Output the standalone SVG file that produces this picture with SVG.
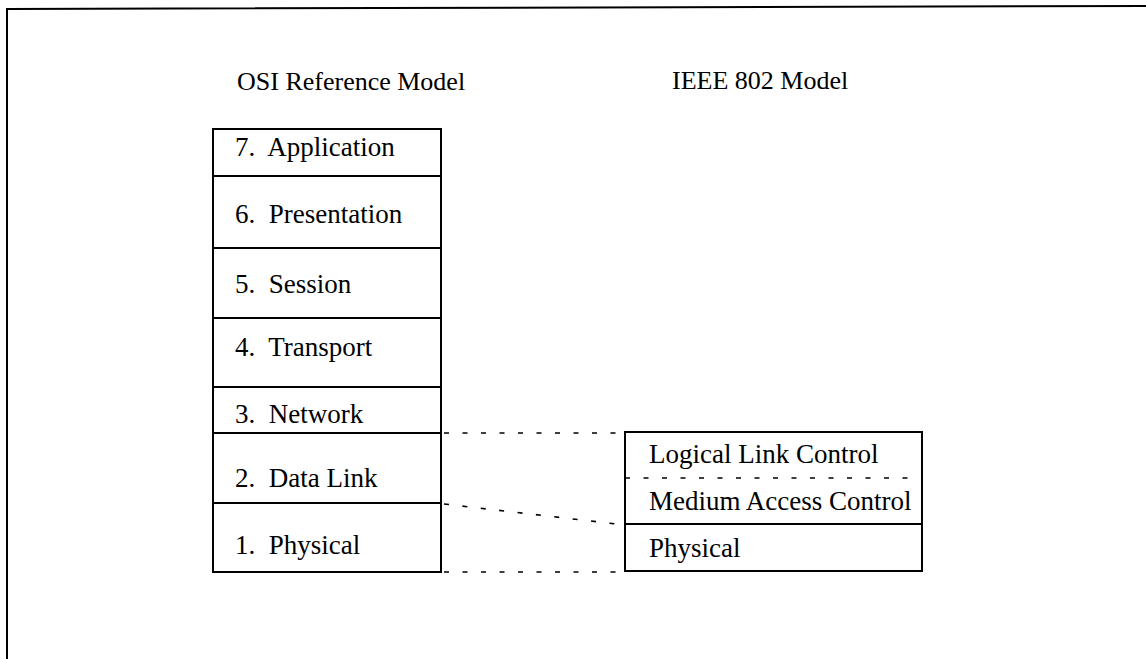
<svg xmlns="http://www.w3.org/2000/svg" width="1146" height="659" viewBox="0 0 1146 659">
<style>
text{font-family:"Liberation Serif","Times New Roman",serif;font-size:27px;fill:#000;white-space:pre}
.hd{font-size:26px}
.box{fill:none;stroke:#000;stroke-width:2}
.sep{stroke:#000;stroke-width:2}
.dash{stroke:#000;stroke-width:1.6;stroke-dasharray:5 13.5;fill:none}
</style>
<rect width="1146" height="659" fill="#fff"/>
<polyline id="frame" points="7,659 7,9 1146,6" fill="none" stroke="#000" stroke-width="2"/>
<text class="hd" x="237" y="90">OSI Reference Model</text>
<text class="hd" x="672" y="89">IEEE 802 Model</text>
<g id="osi">
<rect class="box" x="213" y="129" width="228" height="443"/>
<line class="sep" x1="213" y1="176" x2="441" y2="176"/>
<line class="sep" x1="213" y1="248" x2="441" y2="248"/>
<line class="sep" x1="213" y1="318" x2="441" y2="318"/>
<line class="sep" x1="213" y1="387" x2="441" y2="387"/>
<line class="sep" x1="213" y1="433" x2="441" y2="433"/>
<line class="sep" x1="213" y1="503" x2="441" y2="503"/>
</g>
<g id="osi7"><text x="235" y="156">7.  Application</text></g>
<g id="osi6"><text x="235" y="223">6.  Presentation</text></g>
<g id="osi5"><text x="235" y="293">5.  Session</text></g>
<g id="osi4"><text x="235" y="356">4.  Transport</text></g>
<g id="osi3"><text x="235" y="423">3.  Network</text></g>
<g id="osi2"><text x="235" y="487">2.  Data Link</text></g>
<g id="osi1"><text x="235" y="554">1.  Physical</text></g>
<g id="ieee">
<rect class="box" x="625" y="432" width="297" height="139"/>
<line class="dash" x1="625" y1="478" x2="922" y2="478"/>
<line class="sep" x1="625" y1="524" x2="922" y2="524"/>
</g>
<g id="llc"><text x="649" y="463">Logical Link Control</text></g>
<g id="mac"><text x="649" y="510">Medium Access Control</text></g>
<g id="phy"><text x="649" y="557">Physical</text></g>
<g id="connectors">
<line class="dash" x1="444" y1="433" x2="625" y2="433"/>
<line class="dash" x1="444" y1="504" x2="625" y2="525"/>
<line class="dash" x1="444" y1="572" x2="625" y2="572"/>
</g>
</svg>
